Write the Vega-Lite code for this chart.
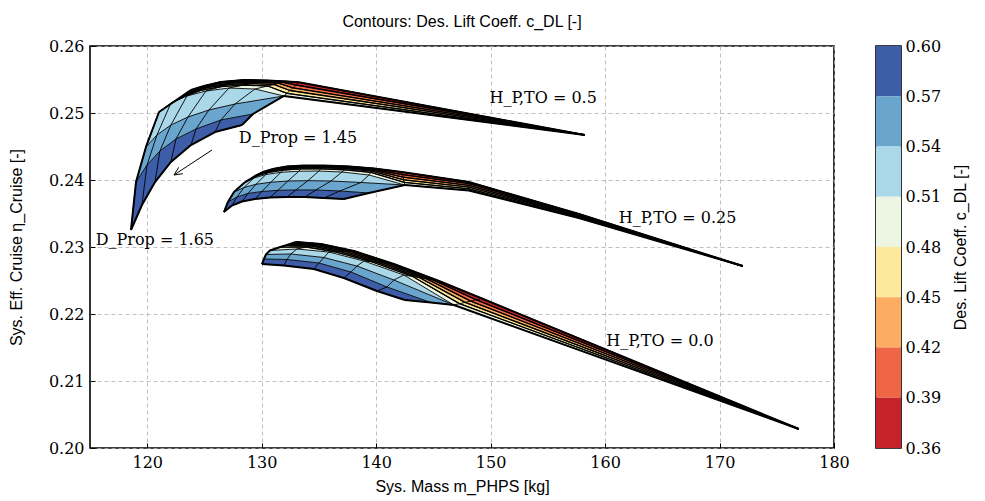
{
"$schema":"https://vega.github.io/schema/vega-lite/v6.json",
"background":"white",
"padding":{"left":7,"top":13,"right":5,"bottom":5},
"bounds":"flush",
"spacing":42,
"datasets":{
"nodes":[
{"c":"A","i":0,"j":0,"x":118.58,"y":0.23254,"b":[0],"o":[0]},
{"c":"A","i":1,"j":0,"x":119.54,"y":0.23627,"b":[0],"o":[1]},
{"c":"A","i":2,"j":0,"x":120.68,"y":0.2397,"b":[0],"o":[2]},
{"c":"A","i":3,"j":0,"x":122.07,"y":0.24269,"b":[0],"o":[3]},
{"c":"A","i":4,"j":0,"x":123.82,"y":0.24522,"b":[0],"o":[4]},
{"c":"A","i":5,"j":0,"x":125.92,"y":0.24716,"b":[0],"o":[5]},
{"c":"A","i":6,"j":0,"x":128.28,"y":0.24821,"b":[0],"o":[6]},
{"c":"A","i":0,"j":1,"x":119.02,"y":0.2397,"b":[1,0],"o":[0,99]},
{"c":"A","i":1,"j":1,"x":119.98,"y":0.24224,"b":[1,0],"o":[1,98]},
{"c":"A","i":2,"j":1,"x":121.11,"y":0.24433,"b":[1,0],"o":[2,97]},
{"c":"A","i":3,"j":1,"x":122.51,"y":0.24612,"b":[1,0],"o":[3,96]},
{"c":"A","i":4,"j":1,"x":124.26,"y":0.24761,"b":[1,0],"o":[4,95]},
{"c":"A","i":5,"j":1,"x":126.44,"y":0.24896,"b":[1,0],"o":[5,94]},
{"c":"A","i":6,"j":1,"x":129.24,"y":0.24985,"b":[1,0],"o":[6,93]},
{"c":"A","i":0,"j":2,"x":119.89,"y":0.24493,"b":[2,1],"o":[0,99]},
{"c":"A","i":1,"j":2,"x":120.85,"y":0.24672,"b":[2,1],"o":[1,98]},
{"c":"A","i":2,"j":2,"x":122.07,"y":0.24821,"b":[2,1],"o":[2,97]},
{"c":"A","i":3,"j":2,"x":123.56,"y":0.2494,"b":[2,1],"o":[3,96]},
{"c":"A","i":4,"j":2,"x":125.39,"y":0.25045,"b":[2,1],"o":[4,95]},
{"c":"A","i":5,"j":2,"x":127.66,"y":0.25134,"b":[2,1],"o":[5,94]},
{"c":"A","i":6,"j":2,"x":131.94,"y":0.25254,"b":[2,1],"o":[6,93]},
{"c":"A","i":0,"j":3,"x":121.03,"y":0.25015,"b":[3,2],"o":[0,99]},
{"c":"A","i":1,"j":3,"x":122.07,"y":0.25149,"b":[3,2],"o":[1,98]},
{"c":"A","i":2,"j":3,"x":123.47,"y":0.25254,"b":[3,2],"o":[2,97]},
{"c":"A","i":3,"j":3,"x":125.13,"y":0.25328,"b":[3,2],"o":[3,96]},
{"c":"A","i":4,"j":3,"x":127.14,"y":0.25373,"b":[3,2],"o":[4,95]},
{"c":"A","i":5,"j":3,"x":129.41,"y":0.25358,"b":[3,2],"o":[5,94]},
{"c":"A","i":6,"j":3,"x":131.94,"y":0.25254,"b":[3,2],"o":[6,93]},
{"c":"A","i":7,"j":3,"x":158.23,"y":0.24672,"b":[3],"o":[7]},
{"c":"A","i":0,"j":4,"x":122.14,"y":0.25146,"b":[4,3],"o":[0,99]},
{"c":"A","i":1,"j":4,"x":123.23,"y":0.25251,"b":[4,3],"o":[1,98]},
{"c":"A","i":2,"j":4,"x":124.66,"y":0.25337,"b":[4,3],"o":[2,97]},
{"c":"A","i":3,"j":4,"x":126.46,"y":0.25394,"b":[4,3],"o":[3,96]},
{"c":"A","i":4,"j":4,"x":128.47,"y":0.25418,"b":[4,3],"o":[4,95]},
{"c":"A","i":5,"j":4,"x":130.53,"y":0.25403,"b":[4,3],"o":[5,94]},
{"c":"A","i":6,"j":4,"x":132.21,"y":0.25294,"b":[4,3],"o":[6,93]},
{"c":"A","i":7,"j":4,"x":158.23,"y":0.24672,"b":[4,3],"o":[7,92]},
{"c":"A","i":0,"j":5,"x":122.7,"y":0.25212,"b":[5,4],"o":[0,99]},
{"c":"A","i":1,"j":5,"x":123.8,"y":0.25301,"b":[5,4],"o":[1,98]},
{"c":"A","i":2,"j":5,"x":125.25,"y":0.25379,"b":[5,4],"o":[2,97]},
{"c":"A","i":3,"j":5,"x":127.12,"y":0.25427,"b":[5,4],"o":[3,96]},
{"c":"A","i":4,"j":5,"x":129.13,"y":0.2544,"b":[5,4],"o":[4,95]},
{"c":"A","i":5,"j":5,"x":131.09,"y":0.25425,"b":[5,4],"o":[5,94]},
{"c":"A","i":6,"j":5,"x":132.47,"y":0.25336,"b":[5,4],"o":[6,93]},
{"c":"A","i":7,"j":5,"x":158.23,"y":0.24672,"b":[5,4],"o":[7,92]},
{"c":"A","i":0,"j":6,"x":123.12,"y":0.25261,"b":[6,5],"o":[0,99]},
{"c":"A","i":1,"j":6,"x":124.24,"y":0.25339,"b":[6,5],"o":[1,98]},
{"c":"A","i":2,"j":6,"x":125.7,"y":0.2541,"b":[6,5],"o":[2,97]},
{"c":"A","i":3,"j":6,"x":127.62,"y":0.25451,"b":[6,5],"o":[3,96]},
{"c":"A","i":4,"j":6,"x":129.63,"y":0.25457,"b":[6,5],"o":[4,95]},
{"c":"A","i":5,"j":6,"x":131.51,"y":0.25442,"b":[6,5],"o":[5,94]},
{"c":"A","i":6,"j":6,"x":132.73,"y":0.25376,"b":[6,5],"o":[6,93]},
{"c":"A","i":7,"j":6,"x":158.23,"y":0.24672,"b":[6,5],"o":[7,92]},
{"c":"A","i":0,"j":7,"x":123.49,"y":0.25304,"b":[7,6],"o":[0,99]},
{"c":"A","i":1,"j":7,"x":124.61,"y":0.25373,"b":[7,6],"o":[1,98]},
{"c":"A","i":2,"j":7,"x":126.08,"y":0.25437,"b":[7,6],"o":[2,97]},
{"c":"A","i":3,"j":7,"x":128.05,"y":0.25473,"b":[7,6],"o":[3,96]},
{"c":"A","i":4,"j":7,"x":130.06,"y":0.25472,"b":[7,6],"o":[4,95]},
{"c":"A","i":5,"j":7,"x":131.87,"y":0.25457,"b":[7,6],"o":[5,94]},
{"c":"A","i":6,"j":7,"x":132.99,"y":0.25418,"b":[7,6],"o":[6,93]},
{"c":"A","i":7,"j":7,"x":158.23,"y":0.24672,"b":[7,6],"o":[7,92]},
{"c":"A","i":0,"j":8,"x":123.82,"y":0.25343,"b":[7],"o":[99]},
{"c":"A","i":1,"j":8,"x":124.96,"y":0.25403,"b":[7],"o":[98]},
{"c":"A","i":2,"j":8,"x":126.44,"y":0.25463,"b":[7],"o":[97]},
{"c":"A","i":3,"j":8,"x":128.45,"y":0.25493,"b":[7],"o":[96]},
{"c":"A","i":4,"j":8,"x":130.46,"y":0.25485,"b":[7],"o":[95]},
{"c":"A","i":5,"j":8,"x":132.21,"y":0.2547,"b":[7],"o":[94]},
{"c":"A","i":6,"j":8,"x":133.25,"y":0.25458,"b":[7],"o":[93]},
{"c":"A","i":7,"j":8,"x":158.23,"y":0.24672,"b":[7],"o":[92]},

{"c":"B","i":0,"j":0,"x":126.7,"y":0.23522,"b":[0],"o":[0]},
{"c":"B","i":1,"j":0,"x":127.4,"y":0.23619,"b":[0],"o":[1]},
{"c":"B","i":2,"j":0,"x":128.28,"y":0.23679,"b":[0],"o":[2]},
{"c":"B","i":3,"j":0,"x":129.41,"y":0.23716,"b":[0],"o":[3]},
{"c":"B","i":4,"j":0,"x":130.72,"y":0.23739,"b":[0],"o":[4]},
{"c":"B","i":5,"j":0,"x":132.21,"y":0.23746,"b":[0],"o":[5]},
{"c":"B","i":6,"j":0,"x":133.78,"y":0.23746,"b":[0],"o":[6]},
{"c":"B","i":7,"j":0,"x":135.44,"y":0.23731,"b":[0],"o":[7]},
{"c":"B","i":8,"j":0,"x":137.18,"y":0.23716,"b":[0],"o":[8]},
{"c":"B","i":0,"j":1,"x":127.05,"y":0.23672,"b":[1,0],"o":[0,99]},
{"c":"B","i":1,"j":1,"x":127.84,"y":0.23746,"b":[1,0],"o":[1,98]},
{"c":"B","i":2,"j":1,"x":128.8,"y":0.23799,"b":[1,0],"o":[2,97]},
{"c":"B","i":3,"j":1,"x":130.02,"y":0.23828,"b":[1,0],"o":[3,96]},
{"c":"B","i":4,"j":1,"x":131.42,"y":0.23846,"b":[1,0],"o":[4,95]},
{"c":"B","i":5,"j":1,"x":132.99,"y":0.23851,"b":[1,0],"o":[5,94]},
{"c":"B","i":6,"j":1,"x":134.74,"y":0.23851,"b":[1,0],"o":[6,93]},
{"c":"B","i":7,"j":1,"x":136.83,"y":0.23836,"b":[1,0],"o":[7,92]},
{"c":"B","i":8,"j":1,"x":139.37,"y":0.23806,"b":[1,0],"o":[8,91]},
{"c":"B","i":0,"j":2,"x":127.58,"y":0.23821,"b":[2,1],"o":[0,99]},
{"c":"B","i":1,"j":2,"x":128.45,"y":0.23888,"b":[2,1],"o":[1,98]},
{"c":"B","i":2,"j":2,"x":129.5,"y":0.23936,"b":[2,1],"o":[2,97]},
{"c":"B","i":3,"j":2,"x":130.81,"y":0.23967,"b":[2,1],"o":[3,96]},
{"c":"B","i":4,"j":2,"x":132.29,"y":0.23985,"b":[2,1],"o":[4,95]},
{"c":"B","i":5,"j":2,"x":134.04,"y":0.2399,"b":[2,1],"o":[5,94]},
{"c":"B","i":6,"j":2,"x":136.05,"y":0.23985,"b":[2,1],"o":[6,93]},
{"c":"B","i":7,"j":2,"x":138.67,"y":0.23963,"b":[2,1],"o":[7,92]},
{"c":"B","i":8,"j":2,"x":142.51,"y":0.23925,"b":[2,1],"o":[8,91]},
{"c":"B","i":0,"j":3,"x":128.45,"y":0.23955,"b":[3,2],"o":[0,99]},
{"c":"B","i":1,"j":3,"x":129.32,"y":0.2403,"b":[3,2],"o":[1,98]},
{"c":"B","i":2,"j":3,"x":130.37,"y":0.24082,"b":[3,2],"o":[2,97]},
{"c":"B","i":3,"j":3,"x":131.68,"y":0.24115,"b":[3,2],"o":[3,96]},
{"c":"B","i":4,"j":3,"x":133.25,"y":0.24131,"b":[3,2],"o":[4,95]},
{"c":"B","i":5,"j":3,"x":135.0,"y":0.24134,"b":[3,2],"o":[5,94]},
{"c":"B","i":6,"j":3,"x":137.01,"y":0.24119,"b":[3,2],"o":[6,93]},
{"c":"B","i":7,"j":3,"x":139.37,"y":0.24075,"b":[3,2],"o":[7,92]},
{"c":"B","i":8,"j":3,"x":142.51,"y":0.23925,"b":[3,2],"o":[8,91]},
{"c":"B","i":9,"j":3,"x":148.1,"y":0.23843,"b":[3],"o":[9]},
{"c":"B","i":10,"j":3,"x":157.71,"y":0.23433,"b":[3],"o":[10]},
{"c":"B","i":11,"j":3,"x":172.03,"y":0.22716,"b":[3],"o":[11]},
{"c":"B","i":0,"j":4,"x":128.83,"y":0.23997,"b":[4,3],"o":[0,99]},
{"c":"B","i":1,"j":4,"x":129.64,"y":0.24066,"b":[4,3],"o":[1,98]},
{"c":"B","i":2,"j":4,"x":130.62,"y":0.24115,"b":[4,3],"o":[2,97]},
{"c":"B","i":3,"j":4,"x":131.89,"y":0.24149,"b":[4,3],"o":[3,96]},
{"c":"B","i":4,"j":4,"x":133.43,"y":0.24166,"b":[4,3],"o":[4,95]},
{"c":"B","i":5,"j":4,"x":135.17,"y":0.24167,"b":[4,3],"o":[5,94]},
{"c":"B","i":6,"j":4,"x":137.25,"y":0.24152,"b":[4,3],"o":[6,93]},
{"c":"B","i":7,"j":4,"x":139.54,"y":0.24113,"b":[4,3],"o":[7,92]},
{"c":"B","i":8,"j":4,"x":142.46,"y":0.23964,"b":[4,3],"o":[8,91]},
{"c":"B","i":9,"j":4,"x":148.1,"y":0.23869,"b":[4,3],"o":[9,90]},
{"c":"B","i":10,"j":4,"x":157.71,"y":0.23445,"b":[4,3],"o":[10,89]},
{"c":"B","i":11,"j":4,"x":172.03,"y":0.22716,"b":[4,3],"o":[11,88]},
{"c":"B","i":0,"j":5,"x":129.03,"y":0.24018,"b":[5,4],"o":[0,99]},
{"c":"B","i":1,"j":5,"x":129.79,"y":0.24084,"b":[5,4],"o":[1,98]},
{"c":"B","i":2,"j":5,"x":130.74,"y":0.24131,"b":[5,4],"o":[2,97]},
{"c":"B","i":3,"j":5,"x":132.0,"y":0.24167,"b":[5,4],"o":[3,96]},
{"c":"B","i":4,"j":5,"x":133.52,"y":0.24182,"b":[5,4],"o":[4,95]},
{"c":"B","i":5,"j":5,"x":135.26,"y":0.24184,"b":[5,4],"o":[5,94]},
{"c":"B","i":6,"j":5,"x":137.38,"y":0.24169,"b":[5,4],"o":[6,93]},
{"c":"B","i":7,"j":5,"x":139.63,"y":0.24133,"b":[5,4],"o":[7,92]},
{"c":"B","i":8,"j":5,"x":142.41,"y":0.24003,"b":[5,4],"o":[8,91]},
{"c":"B","i":9,"j":5,"x":148.1,"y":0.23894,"b":[5,4],"o":[9,90]},
{"c":"B","i":10,"j":5,"x":157.71,"y":0.23457,"b":[5,4],"o":[10,89]},
{"c":"B","i":11,"j":5,"x":172.03,"y":0.22716,"b":[5,4],"o":[11,88]},
{"c":"B","i":0,"j":6,"x":129.17,"y":0.24033,"b":[6,5],"o":[0,99]},
{"c":"B","i":1,"j":6,"x":129.92,"y":0.24097,"b":[6,5],"o":[1,98]},
{"c":"B","i":2,"j":6,"x":130.83,"y":0.24143,"b":[6,5],"o":[2,97]},
{"c":"B","i":3,"j":6,"x":132.07,"y":0.24179,"b":[6,5],"o":[3,96]},
{"c":"B","i":4,"j":6,"x":133.59,"y":0.24196,"b":[6,5],"o":[4,95]},
{"c":"B","i":5,"j":6,"x":135.33,"y":0.24196,"b":[6,5],"o":[5,94]},
{"c":"B","i":6,"j":6,"x":137.47,"y":0.24181,"b":[6,5],"o":[6,93]},
{"c":"B","i":7,"j":6,"x":139.7,"y":0.24148,"b":[6,5],"o":[7,92]},
{"c":"B","i":8,"j":6,"x":142.35,"y":0.24042,"b":[6,5],"o":[8,91]},
{"c":"B","i":9,"j":6,"x":148.1,"y":0.23919,"b":[6,5],"o":[9,90]},
{"c":"B","i":10,"j":6,"x":157.71,"y":0.23469,"b":[6,5],"o":[10,89]},
{"c":"B","i":11,"j":6,"x":172.03,"y":0.22716,"b":[6,5],"o":[11,88]},
{"c":"B","i":0,"j":7,"x":129.3,"y":0.24048,"b":[7,6],"o":[0,99]},
{"c":"B","i":1,"j":7,"x":130.01,"y":0.24109,"b":[7,6],"o":[1,98]},
{"c":"B","i":2,"j":7,"x":130.91,"y":0.24154,"b":[7,6],"o":[2,97]},
{"c":"B","i":3,"j":7,"x":132.14,"y":0.24191,"b":[7,6],"o":[3,96]},
{"c":"B","i":4,"j":7,"x":133.64,"y":0.24206,"b":[7,6],"o":[4,95]},
{"c":"B","i":5,"j":7,"x":135.38,"y":0.24206,"b":[7,6],"o":[5,94]},
{"c":"B","i":6,"j":7,"x":137.55,"y":0.24191,"b":[7,6],"o":[6,93]},
{"c":"B","i":7,"j":7,"x":139.75,"y":0.2416,"b":[7,6],"o":[7,92]},
{"c":"B","i":8,"j":7,"x":142.3,"y":0.24081,"b":[7,6],"o":[8,91]},
{"c":"B","i":9,"j":7,"x":148.1,"y":0.23945,"b":[7,6],"o":[9,90]},
{"c":"B","i":10,"j":7,"x":157.71,"y":0.23481,"b":[7,6],"o":[10,89]},
{"c":"B","i":11,"j":7,"x":172.03,"y":0.22716,"b":[7,6],"o":[11,88]},
{"c":"B","i":0,"j":8,"x":129.41,"y":0.2406,"b":[7],"o":[99]},
{"c":"B","i":1,"j":8,"x":130.11,"y":0.24119,"b":[7],"o":[98]},
{"c":"B","i":2,"j":8,"x":130.98,"y":0.24164,"b":[7],"o":[97]},
{"c":"B","i":3,"j":8,"x":132.21,"y":0.24202,"b":[7],"o":[96]},
{"c":"B","i":4,"j":8,"x":133.69,"y":0.24216,"b":[7],"o":[95]},
{"c":"B","i":5,"j":8,"x":135.44,"y":0.24216,"b":[7],"o":[94]},
{"c":"B","i":6,"j":8,"x":137.62,"y":0.24202,"b":[7],"o":[93]},
{"c":"B","i":7,"j":8,"x":139.8,"y":0.24172,"b":[7],"o":[92]},
{"c":"B","i":8,"j":8,"x":142.25,"y":0.24119,"b":[7],"o":[91]},
{"c":"B","i":9,"j":8,"x":148.1,"y":0.2397,"b":[7],"o":[90]},
{"c":"B","i":10,"j":8,"x":157.71,"y":0.23493,"b":[7],"o":[89]},
{"c":"B","i":11,"j":8,"x":172.03,"y":0.22716,"b":[7],"o":[88]},

{"c":"C","i":0,"j":0,"x":130.02,"y":0.22746,"b":[0],"o":[0]},
{"c":"C","i":1,"j":0,"x":131.94,"y":0.22724,"b":[0],"o":[1]},
{"c":"C","i":2,"j":0,"x":134.56,"y":0.22672,"b":[0],"o":[2]},
{"c":"C","i":3,"j":0,"x":137.18,"y":0.22537,"b":[0],"o":[3]},
{"c":"C","i":4,"j":0,"x":140.07,"y":0.22343,"b":[0],"o":[4]},
{"c":"C","i":5,"j":0,"x":142.51,"y":0.22209,"b":[0],"o":[5]},
{"c":"C","i":0,"j":1,"x":130.2,"y":0.22821,"b":[1,0],"o":[0,99]},
{"c":"C","i":1,"j":1,"x":132.21,"y":0.22813,"b":[1,0],"o":[1,98]},
{"c":"C","i":2,"j":1,"x":135.0,"y":0.22761,"b":[1,0],"o":[2,97]},
{"c":"C","i":3,"j":1,"x":137.79,"y":0.22627,"b":[1,0],"o":[3,96]},
{"c":"C","i":4,"j":1,"x":140.94,"y":0.22403,"b":[1,0],"o":[4,95]},
{"c":"C","i":5,"j":1,"x":144.78,"y":0.22172,"b":[1,0],"o":[5,94]},
{"c":"C","i":0,"j":2,"x":130.37,"y":0.22888,"b":[2,1],"o":[0,99]},
{"c":"C","i":1,"j":2,"x":132.55,"y":0.22896,"b":[2,1],"o":[1,98]},
{"c":"C","i":2,"j":2,"x":135.44,"y":0.22843,"b":[2,1],"o":[2,97]},
{"c":"C","i":3,"j":2,"x":138.32,"y":0.22716,"b":[2,1],"o":[3,96]},
{"c":"C","i":4,"j":2,"x":141.55,"y":0.22507,"b":[2,1],"o":[4,95]},
{"c":"C","i":5,"j":2,"x":146.79,"y":0.22134,"b":[2,1],"o":[5,94]},
{"c":"C","i":0,"j":3,"x":130.72,"y":0.22948,"b":[3,2],"o":[0,99]},
{"c":"C","i":1,"j":3,"x":133.08,"y":0.2297,"b":[3,2],"o":[1,98]},
{"c":"C","i":2,"j":3,"x":135.87,"y":0.22925,"b":[3,2],"o":[2,97]},
{"c":"C","i":3,"j":3,"x":138.93,"y":0.22791,"b":[3,2],"o":[3,96]},
{"c":"C","i":4,"j":3,"x":142.42,"y":0.22582,"b":[3,2],"o":[4,95]},
{"c":"C","i":5,"j":3,"x":146.79,"y":0.22134,"b":[3,2],"o":[5,94]},
{"c":"C","i":6,"j":3,"x":176.92,"y":0.20284,"b":[3],"o":[6]},
{"c":"C","i":0,"j":4,"x":131.63,"y":0.22999,"b":[4,3],"o":[0,99]},
{"c":"C","i":1,"j":4,"x":133.92,"y":0.23,"b":[4,3],"o":[1,98]},
{"c":"C","i":2,"j":4,"x":136.42,"y":0.22929,"b":[4,3],"o":[2,97]},
{"c":"C","i":3,"j":4,"x":139.59,"y":0.2278,"b":[4,3],"o":[3,96]},
{"c":"C","i":4,"j":4,"x":143.19,"y":0.2256,"b":[4,3],"o":[4,95]},
{"c":"C","i":5,"j":4,"x":147.28,"y":0.22154,"b":[4,3],"o":[5,94]},
{"c":"C","i":6,"j":4,"x":176.92,"y":0.20284,"b":[4,3],"o":[6,93]},
{"c":"C","i":0,"j":5,"x":132.08,"y":0.23024,"b":[5,4],"o":[0,99]},
{"c":"C","i":1,"j":5,"x":134.34,"y":0.23015,"b":[5,4],"o":[1,98]},
{"c":"C","i":2,"j":5,"x":136.86,"y":0.22932,"b":[5,4],"o":[2,97]},
{"c":"C","i":3,"j":5,"x":140.11,"y":0.22771,"b":[5,4],"o":[3,96]},
{"c":"C","i":4,"j":5,"x":143.8,"y":0.22542,"b":[5,4],"o":[4,95]},
{"c":"C","i":5,"j":5,"x":147.77,"y":0.22173,"b":[5,4],"o":[5,94]},
{"c":"C","i":6,"j":5,"x":176.92,"y":0.20284,"b":[5,4],"o":[6,93]},
{"c":"C","i":0,"j":6,"x":132.42,"y":0.23043,"b":[6,5],"o":[0,99]},
{"c":"C","i":1,"j":6,"x":134.65,"y":0.23026,"b":[6,5],"o":[1,98]},
{"c":"C","i":2,"j":6,"x":137.29,"y":0.22935,"b":[6,5],"o":[2,97]},
{"c":"C","i":3,"j":6,"x":140.63,"y":0.22762,"b":[6,5],"o":[3,96]},
{"c":"C","i":4,"j":6,"x":144.41,"y":0.22524,"b":[6,5],"o":[4,95]},
{"c":"C","i":5,"j":6,"x":148.26,"y":0.22193,"b":[6,5],"o":[5,94]},
{"c":"C","i":6,"j":6,"x":176.92,"y":0.20284,"b":[6,5],"o":[6,93]},
{"c":"C","i":0,"j":7,"x":132.72,"y":0.2306,"b":[7,6],"o":[0,99]},
{"c":"C","i":1,"j":7,"x":134.92,"y":0.23036,"b":[7,6],"o":[1,98]},
{"c":"C","i":2,"j":7,"x":137.69,"y":0.22938,"b":[7,6],"o":[2,97]},
{"c":"C","i":3,"j":7,"x":141.1,"y":0.22754,"b":[7,6],"o":[3,96]},
{"c":"C","i":4,"j":7,"x":144.96,"y":0.22508,"b":[7,6],"o":[4,95]},
{"c":"C","i":5,"j":7,"x":148.75,"y":0.22212,"b":[7,6],"o":[5,94]},
{"c":"C","i":6,"j":7,"x":176.92,"y":0.20284,"b":[7,6],"o":[6,93]},
{"c":"C","i":0,"j":8,"x":132.99,"y":0.23075,"b":[7],"o":[99]},
{"c":"C","i":1,"j":8,"x":135.17,"y":0.23045,"b":[7],"o":[98]},
{"c":"C","i":2,"j":8,"x":138.06,"y":0.2294,"b":[7],"o":[97]},
{"c":"C","i":3,"j":8,"x":141.55,"y":0.22746,"b":[7],"o":[96]},
{"c":"C","i":4,"j":8,"x":145.48,"y":0.22493,"b":[7],"o":[95]},
{"c":"C","i":5,"j":8,"x":149.24,"y":0.22231,"b":[7],"o":[94]},
{"c":"C","i":6,"j":8,"x":176.92,"y":0.20284,"b":[7],"o":[93]}
],
"bar":[
{"b":0,"lo":0.57,"hi":0.6},
{"b":1,"lo":0.54,"hi":0.57},
{"b":2,"lo":0.51,"hi":0.54},
{"b":3,"lo":0.48,"hi":0.51},
{"b":4,"lo":0.45,"hi":0.48},
{"b":5,"lo":0.42,"hi":0.45},
{"b":6,"lo":0.39,"hi":0.42},
{"b":7,"lo":0.36,"hi":0.39}
],
"labels":[
{"t":"H_P,TO = 0.5","x":149.9,"y":0.2522},
{"t":"H_P,TO = 0.25","x":161.2,"y":0.2343},
{"t":"H_P,TO = 0.0","x":160.1,"y":0.216},
{"t":"D_Prop = 1.45","x":128.0,"y":0.2463},
{"t":"D_Prop = 1.65","x":115.5,"y":0.231}
],
"arrow":[
{"x":125.66,"y":0.24448,"x2":122.34,"y2":0.24075},
{"x":123.11,"y":0.24094,"x2":122.34,"y2":0.24075},
{"x":122.75,"y":0.24189,"x2":122.34,"y2":0.24075}
]
},
"hconcat":[
{
"width":744,"height":402,
"title":{"text":"Contours: Des. Lift Coeff. c_DL [-]"},
"encoding":{
"x":{"field":"x","type":"quantitative","scale":{"domain":[115,180],"nice":false,"zero":false},"axis":{"values":[120,130,140,150,160,170,180],"format":"d","title":"Sys. Mass m_PHPS [kg]","grid":true,"titlePadding":8,"labelFlush":false}},
"y":{"field":"y","type":"quantitative","scale":{"domain":[0.2,0.26],"nice":false,"zero":false},"axis":{"values":[0.2,0.21,0.22,0.23,0.24,0.25,0.26],"format":".2f","title":"Sys. Eff. Cruise η_Cruise [-]","grid":true,"titlePadding":24,"labelFlush":false}}
},
"layer":[
{"data":{"name":"nodes"},"transform":[{"flatten":["b","o"]}],
 "mark":{"type":"line","strokeWidth":0,"fillOpacity":1},
 "encoding":{"fill":{"field":"b","type":"ordinal","scale":{"domain":[0,1,2,3,4,5,6,7],"range":["#3d5da8","#6aa5cd","#abd8e8","#ecf6e2","#fee89b","#fbae62","#ee6645","#c6222a"]},"legend":null},
  "detail":[{"field":"c"},{"field":"b"}],
  "order":{"field":"o","type":"quantitative"}}},
{"data":{"name":"nodes"},
 "mark":{"type":"line","color":"black","strokeWidth":0.9,"strokeJoin":"round"},
 "encoding":{"detail":[{"field":"c"},{"field":"j"}],"order":{"field":"i","type":"quantitative"}}},
{"data":{"name":"nodes"},
 "transform":[{"filter":"datum.j>=4"}],
 "mark":{"type":"line","color":"black","strokeWidth":1.3,"strokeJoin":"round"},
 "encoding":{"detail":[{"field":"c"},{"field":"j"}],"order":{"field":"i","type":"quantitative"}}},
{"data":{"name":"nodes"},
 "mark":{"type":"line","color":"black","strokeWidth":0.9,"strokeJoin":"round"},
 "encoding":{"detail":[{"field":"c"},{"field":"i"}],"order":{"field":"j","type":"quantitative"}}},
{"data":{"name":"nodes"},
 "transform":[{"filter":"datum.j==0 || datum.j==8 || (datum.j==3 && ((datum.c=='A' && datum.i>=6) || (datum.c=='B' && datum.i>=8) || (datum.c=='C' && datum.i>=5)))"}],
 "mark":{"type":"line","color":"black","strokeWidth":2,"strokeJoin":"round"},
 "encoding":{"detail":[{"field":"c"},{"field":"j"}],"order":{"field":"i","type":"quantitative"}}},
{"data":{"name":"nodes"},
 "transform":[{"filter":"datum.i==0 || (datum.j<=3 && ((datum.c=='A' && datum.i==6) || (datum.c=='B' && datum.i==8) || (datum.c=='C' && datum.i==5)))"}],
 "mark":{"type":"line","color":"black","strokeWidth":2,"strokeJoin":"round"},
 "encoding":{"detail":[{"field":"c"},{"field":"i"}],"order":{"field":"j","type":"quantitative"}}},
{"data":{"name":"arrow"},
 "mark":{"type":"rule","color":"black","strokeWidth":1},
 "encoding":{"x2":{"field":"x2"},"y2":{"field":"y2"}}},
{"data":{"name":"labels"},
 "mark":{"type":"text","align":"left","baseline":"middle","font":"DejaVu Serif","fontSize":16,"color":"black"},
 "encoding":{"text":{"field":"t","type":"nominal"}}}
]
},
{
"width":25,"height":402,
"data":{"name":"bar"},
"mark":{"type":"rect"},
"encoding":{
"y":{"field":"lo","type":"quantitative","scale":{"domain":[0.36,0.6],"nice":false,"zero":false},"axis":{"orient":"right","values":[0.36,0.39,0.42,0.45,0.48,0.51,0.54,0.57,0.6],"format":".2f","title":"Des. Lift Coeff. c_DL [-]","grid":false,"ticks":false,"labelPadding":4,"labelFlush":false,"titleAngle":270,"titleBaseline":"top","titlePadding":12}},
"y2":{"field":"hi"},
"fill":{"field":"b","type":"ordinal","scale":{"domain":[0,1,2,3,4,5,6,7],"range":["#3d5da8","#6aa5cd","#abd8e8","#ecf6e2","#fee89b","#fbae62","#ee6645","#c6222a"]},"legend":null}
}
}
],
"config":{
"view":{"stroke":"black","strokeWidth":1.6},
"axis":{"domain":false,"labelFont":"DejaVu Serif","labelFontSize":16,"labelColor":"black","titleFont":"Liberation Sans","titleFontSize":16,"titleFontWeight":"normal","titleColor":"black","tickColor":"black","tickSize":-5,"labelPadding":11,"gridColor":"#b0b0b0","gridDash":[4,3],"gridWidth":0.8,"gridOpacity":1},
"title":{"font":"Liberation Sans","fontSize":16,"fontWeight":"normal","color":"black","offset":8}
}
}
